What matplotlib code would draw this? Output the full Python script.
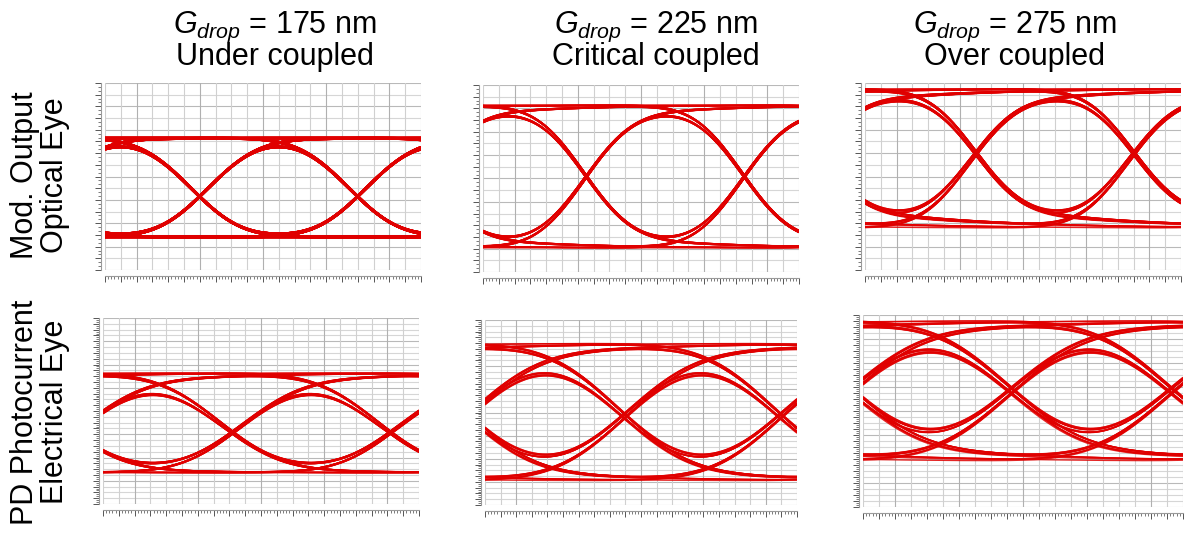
import numpy as np
import matplotlib
matplotlib.use("Agg")
import matplotlib.pyplot as plt
from matplotlib.ticker import MultipleLocator, NullFormatter

plt.rcParams['font.family'] = ['Liberation Sans', 'DejaVu Sans']
plt.rcParams['mathtext.fontset'] = 'custom'
plt.rcParams['mathtext.rm'] = 'Liberation Sans'
plt.rcParams['mathtext.it'] = 'Liberation Sans:italic'

# ---- data -------------------------------------------------------------
# transmitted NRZ bit pattern (cyclic)
bit_pattern = ("11010011100010111101100101000111"
               "00101101110000100111101001101100"
               "1010111000110100")

gap_labels = ["175 nm", "225 nm", "275 nm"]
coupling_labels = ["Under coupled", "Critical coupled", "Over coupled"]
row_labels = ["Mod. Output\nOptical Eye", "PD Photocurrent\nElectrical Eye"]

# per-panel eye parameters, row-major (optical row, then electrical row)
level_low = [0.176, 0.128, 0.223, 0.168, 0.130, 0.236]   # "0" rail (axes units)
level_high = [0.706, 0.893, 0.970, 0.706, 0.876, 0.974]  # "1" rail (axes units)
cross_pos = [0.60, 0.67, 0.72, 0.84, 0.92, 0.96]         # first crossing (UI)
edge_sigma = [0.27, 0.24, 0.23, 0.33, 0.36, 0.36]        # edge spread (UI)
tail_frac = [0.02, 0.11, 0.16, 0.12, 0.14, 0.16]         # slow-settling fraction
tail_tau = [0.5, 0.6, 0.7, 0.7, 0.8, 0.9]                # slow time constant (UI)
level_gamma = [1.29, 1.0, 0.9, 1.32, 1.09, 1.0]          # rail compression
trace_width = [2.0, 1.1, 1.1, 1.1, 1.0, 1.0]

# ---- layout (pixels) --------------------------------------------------
W, H = 1186, 533
panel_px = [(105, 83, 421, 270), (483, 85, 799, 272), (865, 83, 1181, 270),
            (103, 318, 419, 504), (485, 320, 797, 505), (863, 315, 1183, 507)]
title_x = [275, 656, 1015]

SPU = 100  # samples per UI
TRACE = '#e00000'


def respond(nrz, sigma, frac, tau):
    tg = np.arange(-int(4 * sigma * SPU), int(4 * sigma * SPU) + 1) / SPU
    g = np.exp(-tg ** 2 / (2 * sigma ** 2))
    g /= g.sum()
    fast = np.convolve(nrz, g, mode='same')
    te = np.arange(0, int(8 * tau * SPU) + 1) / SPU
    h = np.exp(-te / tau)
    h /= h.sum()
    slow = np.convolve(fast, h, mode='full')[:len(fast)]
    return (1 - frac) * fast + frac * slow


bits = np.array([int(c) for c in bit_pattern], dtype=float)
N = len(bits)

fig = plt.figure(figsize=(W / 100, H / 100), dpi=100)

for i, (l, t, r, b) in enumerate(panel_px):
    row = i // 3
    ax = fig.add_axes([l / W, 1 - b / H, (r - l) / W, (b - t) / H])
    ax.set_xlim(0, 2)
    ax.set_ylim(0, 1)

    # grid
    nrows = 16 if row == 0 else 32
    hmajor = 2 if row == 0 else 4
    for k in range(nrows + 1):
        c = '#b9b9b9' if k % hmajor == 0 else '#d6d6d6'
        ax.axhline(k / nrows, color=c, lw=0.8, zorder=0)
    for k in range(21):
        c = '#b0b0b0' if k % 4 == 2 else '#d0d0d0'
        ax.axvline(k * 0.1, color=c, lw=0.8, zorder=0)

    # waveform
    nrz = np.repeat(np.tile(bits, 3), SPU)
    lin = respond(nrz, edge_sigma[i], tail_frac[i], tail_tau[i])
    step = respond(np.r_[np.zeros(4 * SPU), np.ones(8 * SPU)],
                   edge_sigma[i], tail_frac[i], tail_tau[i])
    delay = (np.argmax(step[:10 * SPU] >= 0.5) - 4 * SPU) / SPU
    sig = np.clip(lin, 0, 1) ** level_gamma[i]
    sig = level_low[i] + (level_high[i] - level_low[i]) * sig
    x = np.linspace(0, 2, 2 * SPU + 1)
    for k in range(N, 2 * N):
        s0 = int(round((k + delay - cross_pos[i]) * SPU))
        ax.plot(x, sig[s0:s0 + 2 * SPU + 1], color=TRACE,
                lw=trace_width[i], alpha=0.85, solid_capstyle='butt', zorder=2)

    # axes decoration
    for side in ('top', 'right'):
        ax.spines[side].set_visible(False)
    ax.spines['bottom'].set_position(('outward', 4))
    ax.spines['left'].set_position(('outward', 3))
    ax.spines['bottom'].set_color('#9a9a9a')
    ax.spines['left'].set_color('#9a9a9a')
    ax.spines['bottom'].set_linewidth(0.8)
    ax.spines['left'].set_linewidth(0.8)
    ax.xaxis.set_major_locator(MultipleLocator(0.1))
    ax.xaxis.set_minor_locator(MultipleLocator(0.02))
    ax.yaxis.set_major_locator(MultipleLocator(1 / nrows))
    ax.yaxis.set_minor_locator(MultipleLocator(1 / (nrows * 3)))
    ax.xaxis.set_major_formatter(NullFormatter())
    ax.yaxis.set_major_formatter(NullFormatter())
    ax.tick_params(which='major', length=4, width=0.7, color='#555555',
                   direction='out')
    ax.tick_params(which='minor', length=2.5, width=0.6, color='#666666',
                   direction='out')

# column titles
for j in range(3):
    fig.text(title_x[j] / W, 1 - 33 / H,
             r"$G_{drop}$ = " + gap_labels[j],
             ha='center', va='baseline', fontsize=22)
    fig.text(title_x[j] / W, 1 - 65 / H, coupling_labels[j],
             ha='center', va='baseline', fontsize=22)

# row labels
for rr, yc in enumerate([175, 412]):
    fig.text(40 / W, 1 - yc / H, row_labels[rr], rotation=90,
             ha='center', va='center', multialignment='center',
             fontsize=22, linespacing=1.0)

fig.savefig('out.png', dpi=100, facecolor='white')
